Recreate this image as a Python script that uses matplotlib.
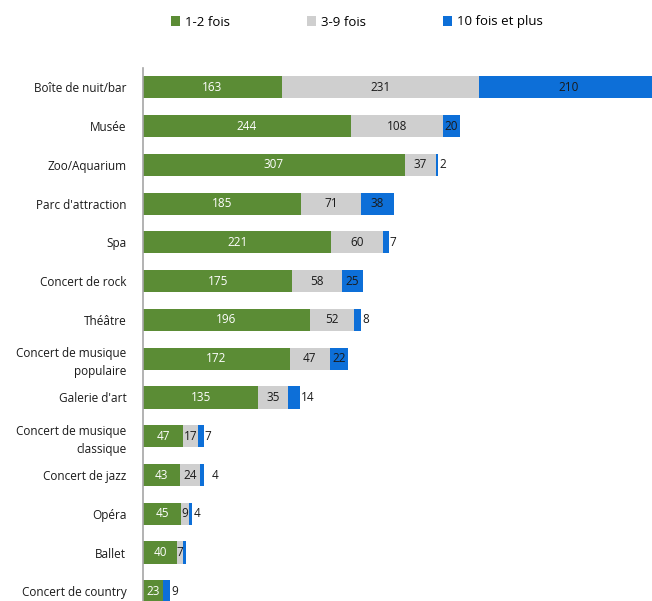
import matplotlib.pyplot as plt
import numpy as np

plt.rcParams['font.family'] = ['Open Sans', 'DejaVu Sans']

categories = ["Boîte de nuit/bar", "Musée", "Zoo/Aquarium", "Parc d'attraction", "Spa",
              "Concert de rock", "Théâtre", "Concert de musique\npopulaire", "Galerie d'art",
              "Concert de musique\nclassique", "Concert de jazz", "Opéra", "Ballet",
              "Concert de country"]
once = [163, 244, 307, 185, 221, 175, 196, 172, 135, 47, 43, 45, 40, 23]     # 1-2 fois
some = [231, 108, 37, 71, 60, 58, 52, 47, 35, 17, 24, 9, 7, 0]               # 3-9 fois
often = [210, 20, 2, 38, 7, 25, 8, 22, 14, 7, 4, 4, 3, 9]                    # 10 fois et plus
often_labels = ['210', '20', '2', '38', '7', '25', '8', '22', '14', '7', '4', '4', '', '9']
series_names = ['1-2 fois', '3-9 fois', '10 fois et plus']

green = '#5b8c35'
grey = '#cfcfcf'
blue = '#0d6fd8'

fig = plt.figure(figsize=(6.52, 6.01), dpi=100)
ax = fig.add_axes([143 / 652, 0, 1 - 143 / 652, 533 / 601])

y = np.arange(len(categories))
once = np.array(once)
some = np.array(some)
often = np.array(often)
h = 0.57

b1 = ax.barh(y, once, height=h, color=green, label=series_names[0])
b2 = ax.barh(y, some, left=once, height=h, color=grey, label=series_names[1])
b3 = ax.barh(y, often, left=once + some, height=h, color=blue, label=series_names[2])

fs = 8.5
for i in range(len(categories)):
    ax.text(once[i] / 2, y[i], str(once[i]), ha='center', va='center', color='white', fontsize=fs)
    if some[i] > 0:
        ax.text(once[i] + some[i] / 2, y[i], str(some[i]), ha='center', va='center',
                color='#1a1a1a', fontsize=fs)
    end = once[i] + some[i] + often[i]
    if often_labels[i] == '':
        continue
    if often[i] >= 15:
        ax.text(once[i] + some[i] + often[i] / 2, y[i], often_labels[i], ha='center',
                va='center', color='#1a1a1a', fontsize=fs)
    else:
        off = 9 if categories[i] == 'Concert de jazz' else 1.5
        ax.text(end + off, y[i], often_labels[i], ha='left', va='center',
                color='#1a1a1a', fontsize=fs)

ax.set_xlim(0, 597)
ax.set_ylim(13.25, -0.5)
ax.set_yticks(y)
ax.set_yticklabels(categories, fontsize=8.5, linespacing=1.5, color='#1a1a1a')
ax.tick_params(axis='y', length=0, pad=12)
ax.set_xticks([])
for s in ['top', 'right', 'bottom']:
    ax.spines[s].set_visible(False)
ax.spines['left'].set_color('#a6a6a6')
ax.spines['left'].set_linewidth(1.2)

fig.legend(handles=[b1, b2, b3], loc='center left', bbox_to_anchor=(159 / 652, 1 - 22 / 601),
           ncol=3, frameon=False, fontsize=9.5, handlelength=0.7, handleheight=0.7,
           handletextpad=0.4, columnspacing=5.8)

fig.savefig('out.png', dpi=100)
